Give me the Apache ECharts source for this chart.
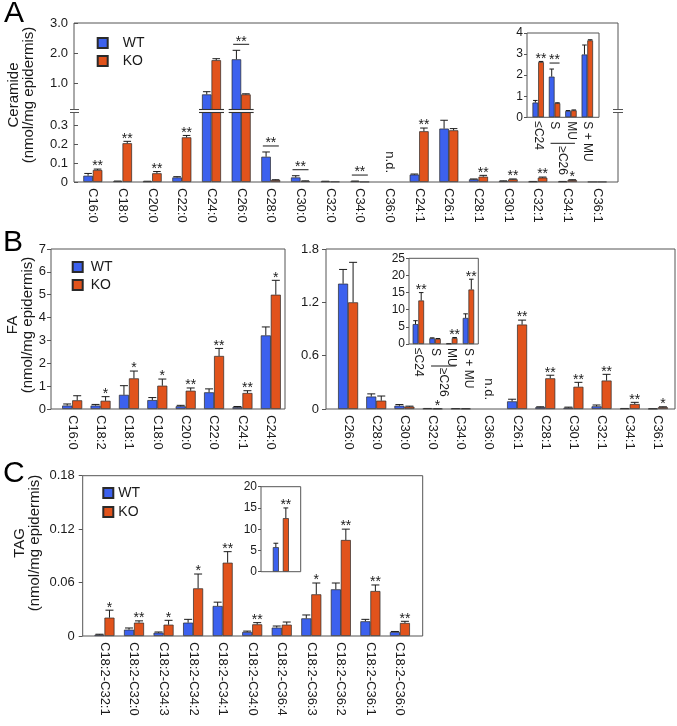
<!DOCTYPE html>
<html><head><meta charset="utf-8">
<script src="https://cdn.jsdelivr.net/npm/echarts@6/dist/echarts.min.js"></script>
<style>html,body{margin:0;padding:0;background:#fff}#c{width:677px;height:726px}</style>
</head><body><div id="c"></div>
<script>
// ---------------- DATA ----------------
// Panel A – Ceramide (nmol/mg epidermis)
const catsA = ['C16:0','C18:0','C20:0','C22:0','C24:0','C26:0','C28:0','C30:0','C32:0','C34:0','C36:0','C24:1','C26:1','C28:1','C30:1','C32:1','C34:1','C36:1'];
const wtA   = [0.033,0.004,0.003,0.024,0.62,1.79,0.133,0.024,0.003,0.004,null,0.039,0.281,0.014,0.005,0.002,0.002,0.001];
const wtSdA = [0.012,0.001,0.001,0.004,0.09,0.30,0.025,0.009,0.001,0.001,null,0.003,0.044,0.002,0.001,0.001,0.001,0];
const koA   = [0.063,0.204,0.046,0.235,1.76,0.62,0.010,0.005,0.002,0.001,null,0.267,0.272,0.028,0.014,0.023,0.010,0.001];
const koSdA = [0.005,0.010,0.009,0.010,0.05,0.02,0.002,0.001,0,0,null,0.017,0.009,0.007,0.002,0.003,0.002,0];
const sigA  = ['**','**','**','**','','**','**','**','','**','','**','','**','**','**','*',''];
const sigLineA = [0,0,0,0,0,1,1,1,0,1,0,0,0,0,0,0,0,0];
const ndA   = ['','','','','','','','','','','n.d.','','','','','','',''];
const ticksAUp = [1,2,3];
const ticksALow = [0,0.1,0.2,0.3];

// Inset A
const catsIA = ['\u2264C24','S','MU','S + MU'];
const wtIA   = [0.70,1.93,0.30,2.98];
const wtSdIA = [0.10,0.36,0.02,0.45];
const koIA   = [2.62,0.67,0.33,3.65];
const koSdIA = [0.03,0.02,0.02,0.03];
const sigIA  = ['**','**','',''];
const sigLineIA = [0,1,0,0];
const ticksIA = [0,1,2,3,4];

// Panel B left – FA
const catsBL = ['C16:0','C18:2','C18:1','C18:0','C20:0','C22:0','C24:1','C24:0'];
const wtBL   = [0.15,0.15,0.62,0.39,0.12,0.73,0.08,3.22];
const wtSdBL = [0.07,0.05,0.40,0.11,0.04,0.15,0.03,0.37];
const koBL   = [0.38,0.36,1.34,1.02,0.80,2.32,0.70,5.00];
const koSdBL = [0.20,0.18,0.32,0.29,0.12,0.33,0.10,0.63];
const sigBL  = ['','*','*','*','**','**','**','*'];
const ticksBL = [0,1,2,3,4,5,6,7];

// Panel B right
const catsBR = ['C26:0','C28:0','C30:0','C32:0','C34:0','C36:0','C26:1','C28:1','C30:1','C32:1','C34:1','C36:1'];
const wtBR   = [1.41,0.14,0.037,0.005,0.004,null,0.086,0.020,0.015,0.030,0.005,0.003];
const wtSdBR = [0.16,0.03,0.013,0.001,0.001,null,0.024,0.005,0.006,0.015,0.001,0.001];
const koBR   = [1.20,0.094,0.026,0.003,0.003,null,0.95,0.345,0.25,0.32,0.056,0.020];
const koSdBR = [0.45,0.052,0.006,0.001,0.001,null,0.05,0.035,0.05,0.07,0.019,0.005];
const sigBR  = ['','','','*','','','**','**','**','**','**','*'];
const ndBR   = ['','','','','','n.d.','','','','','',''];
const ticksBR = [0,0.6,1.2,1.8];

// Inset B
const catsIB = ['\u2264C24','S','MU','S + MU'];
const wtIB   = [5.8,1.67,0.10,7.6];
const wtSdIB = [1.0,0.13,0.05,1.2];
const koIB   = [12.7,1.5,1.7,15.9];
const koSdIB = [2.3,0.1,0.2,3.0];
const sigIB  = ['**','','**','**'];
const ticksIB = [0,5,10,15,20,25];

// Panel C – TAG
const catsC = ['C18:2-C32:1','C18:2-C32:0','C18:2-C34:3','C18:2-C34:2','C18:2-C34:1','C18:2-C34:0','C18:2-C36:4','C18:2-C36:3','C18:2-C36:2','C18:2-C36:1','C18:2-C36:0'];
const wtC   = [0.0015,0.0071,0.0037,0.0150,0.0337,0.0045,0.0094,0.0198,0.0524,0.0165,0.0045];
const wtSdC = [0.0005,0.0019,0.0008,0.0037,0.0043,0.0010,0.0018,0.0038,0.0071,0.0022,0.0006];
const koC   = [0.0206,0.0150,0.0127,0.0535,0.0823,0.0131,0.0127,0.0468,0.1078,0.0505,0.0146];
const koSdC = [0.0084,0.0020,0.0049,0.0161,0.0124,0.0019,0.0030,0.0127,0.0122,0.0068,0.0019];
const sigC  = ['*','**','*','*','**','**','','*','**','**','**'];
const ticksC = [0,0.06,0.12,0.18];

// Inset C
const catsIC = ['total'];
const wtIC   = [5.77];
const wtSdIC = [0.93];
const koIC   = [12.6];
const koSdIC = [2.4];
const sigIC  = ['**'];
const ticksIC = [0,5,10,15,20];

// ---------------- STYLE / LAYOUT ----------------
const FONT = '"Liberation Sans", Arial, Helvetica, sans-serif';
const WT_COLOR = '#3c61ee', KO_COLOR = '#e1531c', EDGE = '#2a2a2a', FRAME = '#555', TXT = '#1a1a1a';
const A_LOW_MAX = 0.3658, A_UP_MIN = 0.1167;

const option = {animation:false, textStyle:{fontFamily:FONT}, grid:[], xAxis:[], yAxis:[], series:[], legend:[]};
const panels = [];

function addPanel(p) {
  const gi = option.grid.length;
  p.gi = gi;
  panels.push(p);
  const top = p.top != null ? p.top : p.frame.y;
  const height = p.height != null ? p.height : p.frame.h;
  option.grid.push({left: p.frame.x + p.padL, top, width: p.frame.w - p.padL - p.padR, height});
  option.xAxis.push({type:'category', gridIndex:gi, data:p.cats,
    axisLine:{show:false}, axisTick:{show:false},
    axisLabel:{show:!!p.xLabel, interval:0, rotate:-90, fontSize:p.xFont||13, color:TXT, margin:p.xMargin||6, fontFamily:FONT}});
  option.yAxis.push({type:'value', gridIndex:gi, min:p.yMin, max:p.yMax, offset:p.padL,
    splitLine:{show:false}, axisLine:{show:false},
    axisTick:{show:true, inside:!!p.tickInside, length:p.tickLen||4, customValues:p.ticks, lineStyle:{color:FRAME}},
    axisLabel:{customValues:p.ticks, formatter:p.fmt, fontSize:p.yFont||13, color:TXT, margin:p.yMargin||6, fontFamily:FONT}});
  const keep = p.keep || (() => true);
  const barKeep = p.barKeep || keep;
  const mk = (name, vals, color) => ({type:'bar', name, xAxisIndex:gi, yAxisIndex:gi, barWidth:p.bw, barGap:p.gap||'0%',
    data: vals.map(v => (v == null || !barKeep(v)) ? '-' : v),
    itemStyle:{color, borderColor:EDGE, borderWidth:0.7}, silent:true, clip:true});
  option.series.push(mk('WT', p.wt, WT_COLOR), mk('KO', p.ko, KO_COLOR));
  const off = (p.bw + (p.gapPx||0)) / 2, cap = p.bw * 0.8;
  const star = (s, x, y) => ({type:'text', x, y: y + 5.5, style:{text:s, align:'center', verticalAlign:'bottom', font:'14px ' + FONT, fill:TXT}});
  option.series.push({type:'custom', xAxisIndex:gi, yAxisIndex:gi, silent:true, z:3,
    data: p.cats.map((c, i) => [i, p.yMin]),
    renderItem(params, api) {
      const i = api.value(0);
      const base = api.coord([i, p.yMin]);
      const cx = base[0];
      const ch = [];
      const pairs = [[p.wt[i], p.wtSd[i], cx - off], [p.ko[i], p.koSd[i], cx + off]];
      const tops = [];
      for (const [v, sd, x] of pairs) {
        if (v == null || !keep(v)) { tops.push(null); continue; }
        const yv = api.coord([i, v])[1];
        const ye = api.coord([i, v + (sd||0)])[1];
        tops.push(ye);
        if (sd > 0) {
          ch.push({type:'line', shape:{x1:x, y1:yv, x2:x, y2:ye}, style:{stroke:TXT, lineWidth:1}});
          ch.push({type:'line', shape:{x1:x - cap/2, y1:ye, x2:x + cap/2, y2:ye}, style:{stroke:TXT, lineWidth:1}});
        }
      }
      const s = p.sig && p.sig[i];
      const big = Math.max(p.wt[i] == null ? -1 : p.wt[i], p.ko[i] == null ? -1 : p.ko[i]);
      if (s && keep(big)) {
        const valid = tops.filter(t => t != null);
        if (p.sigLine && p.sigLine[i]) {
          const ly = Math.min(...valid) - 6;
          ch.push({type:'line', shape:{x1:cx - p.lineHalf, y1:ly, x2:cx + p.lineHalf, y2:ly}, style:{stroke:TXT, lineWidth:1}});
          ch.push(star(s, cx, ly - 1));
        } else if (tops[1] != null) {
          ch.push(star(s, cx + off, tops[1] - 1));
        }
      }
      if (p.nd && p.nd[i]) {
        ch.push({type:'text', x:cx, y:base[1] - 9, rotation:-Math.PI/2,
          style:{text:p.nd[i], align:'right', verticalAlign:'middle', font:'13px ' + FONT, fill:TXT}});
      }
      return {type:'group', children:ch};
    }});
}

const f1 = v => v === 0 ? '0' : v.toFixed(1);
const f2 = v => v === 0 ? '0' : v.toFixed(2);
const fi = v => String(v);

const frameA = {x:74, y:23, w:544, h:159};
// Panel A upper (broken axis)
addPanel({frame:frameA, padL:4, padR:6, top:23, height:86.5, yMin:A_UP_MIN, yMax:3, ticks:ticksAUp, fmt:v => v.toFixed(1),
  cats:catsA, wt:wtA, wtSd:wtSdA, ko:koA, koSd:koSdA, sig:sigA, sigLine:sigLineA, lineHalf:8,
  keep:v => v > A_LOW_MAX, bw:9.5, tickInside:true, yMargin:6, xLabel:false});
// Panel A lower
addPanel({frame:frameA, padL:4, padR:6, top:112.5, height:69.5, yMin:0, yMax:A_LOW_MAX, ticks:ticksALow, fmt:f1,
  cats:catsA, wt:wtA, wtSd:wtSdA, ko:koA, koSd:koSdA, sig:sigA, sigLine:sigLineA, nd:ndA, lineHalf:8,
  keep:v => v <= A_LOW_MAX, barKeep:() => true, bw:9.5, tickInside:true, yMargin:6, xLabel:true, xMargin:6});
// Inset A
addPanel({frame:{x:527, y:33, w:72, h:84.3}, padL:3, padR:3.5, yMin:0, yMax:4, ticks:ticksIA, fmt:fi,
  cats:catsIA, wt:wtIA, wtSd:wtSdIA, ko:koIA, koSd:koSdIA, sig:sigIA, sigLine:sigLineIA, lineHalf:5,
  bw:5.7, yFont:12, xFont:12, yMargin:4, xMargin:4, tickLen:3, xLabel:true,
  group:{label:'\u2265C26', from:1, to:2, lineDy:26, textDy:29}});
// Panel B left
addPanel({frame:{x:51, y:249, w:234, h:160}, padL:7, padR:0, yMin:0, yMax:7, ticks:ticksBL, fmt:fi,
  cats:catsBL, wt:wtBL, wtSd:wtSdBL, ko:koBL, koSd:koSdBL, sig:sigBL, bw:10, yMargin:5, xLabel:true, xMargin:6});
// Panel B right
addPanel({frame:{x:326, y:249, w:349, h:160}, padL:8, padR:3, yMin:0, yMax:1.8, ticks:ticksBR, fmt:f1,
  cats:catsBR, wt:wtBR, wtSd:wtSdBR, ko:koBR, koSd:koSdBR, sig:sigBR, nd:ndBR, bw:10, yMargin:7, xLabel:true, xMargin:6});
// Inset B
addPanel({frame:{x:409, y:258.3, w:69.3, h:85.7}, padL:1, padR:1.5, yMin:0, yMax:25, ticks:ticksIB, fmt:fi,
  cats:catsIB, wt:wtIB, wtSd:wtSdIB, ko:koIB, koSd:koSdIB, sig:sigIB,
  bw:5.7, yFont:12, xFont:12, yMargin:4, xMargin:4, tickLen:3, xLabel:true,
  group:{label:'\u2265C26', from:1, to:2, lineDy:22, textDy:24}});
// Panel C
addPanel({frame:{x:82.7, y:475.7, w:340, h:160.3}, padL:7, padR:8, yMin:0, yMax:0.18, ticks:ticksC, fmt:f2,
  cats:catsC, wt:wtC, wtSd:wtSdC, ko:koC, koSd:koSdC, sig:sigC, bw:10, yMargin:8, xLabel:true, xMargin:6});
// Inset C
addPanel({frame:{x:261, y:486.7, w:39.7, h:85}, padL:0, padR:0, yMin:0, yMax:20, ticks:ticksIC, fmt:fi,
  cats:catsIC, wt:wtIC, wtSd:wtSdIC, ko:koIC, koSd:koSdIC, sig:sigIC,
  bw:6, gap:'66.7%', gapPx:4, yFont:12, yMargin:4, tickLen:3, xLabel:false});

// Legends
const legendBase = {data:['WT','KO'], orient:'vertical', itemWidth:10, itemHeight:10, itemGap:4, padding:0,
  selectedMode:false, icon:'rect'};
option.legend.push(Object.assign({}, legendBase, {left:96.7, top:36, textStyle:{fontSize:14, color:TXT, fontFamily:FONT, padding:[0,0,0,10]}}));
option.legend.push(Object.assign({}, legendBase, {left:71.7, top:260, textStyle:{fontSize:14, color:TXT, fontFamily:FONT, padding:[0,0,0,3]}}));
option.legend.push(Object.assign({}, legendBase, {left:102.3, top:486, itemGap:5, textStyle:{fontSize:14, color:TXT, fontFamily:FONT}}));

const chart = echarts.init(document.getElementById('c'), null, {renderer:'canvas'});
chart.setOption(option);

// ---------------- DECORATION (frames, breaks, labels) ----------------
const g = [];
const line = (x1, y1, x2, y2, w, c) => ({type:'line', silent:true, z:10, shape:{x1, y1, x2, y2}, style:{stroke:c || FRAME, lineWidth:w || 1}});
// Panel A frame with axis break
{
  const f = frameA, yb1 = 109.5, yb2 = 112.5, r = f.x + f.w, b = f.y + f.h;
  g.push(line(f.x, f.y, r, f.y), line(f.x, b, r, b));
  g.push(line(f.x, f.y, f.x, yb1), line(f.x, yb2, f.x, b), line(r, f.y, r, yb1), line(r, yb2, r, b));
  g.push(line(f.x - 4, yb1, f.x + 5, yb1), line(f.x - 4, yb2, f.x + 5, yb2));
  g.push(line(r - 5, yb1, r + 5, yb1), line(r - 5, yb2, r + 5, yb2));
  // break marks across the bars that cross the break
  catsA.forEach((c, i) => {
    const big = Math.max(wtA[i] || 0, koA[i] || 0);
    if (big > A_LOW_MAX) {
      const x = chart.convertToPixel({gridIndex:1}, [i, 0])[0];
      g.push(line(x - 12.5, yb1, x + 12.5, yb1, 1.1, '#333'), line(x - 12.5, yb2, x + 12.5, yb2, 1.1, '#333'));
    }
  });
}
// other frames
panels.forEach(p => {
  if (p.frame === frameA) return;
  g.push({type:'rect', silent:true, z:10, shape:{x:p.frame.x, y:p.frame.y, width:p.frame.w, height:p.frame.h},
    style:{fill:'none', stroke:FRAME, lineWidth:1}});
  if (p.group) {
    const x1 = chart.convertToPixel({gridIndex:p.gi}, [p.group.from, 0])[0];
    const xa = chart.convertToPixel({gridIndex:p.gi}, [p.group.to, 0])[0];
    const yb = p.frame.y + p.frame.h;
    g.push({type:'line', silent:true, shape:{x1:x1 - 4, y1:yb + p.group.lineDy, x2:xa + 4, y2:yb + p.group.lineDy}, style:{stroke:TXT, lineWidth:1}});
    g.push({type:'text', silent:true, x:(x1 + xa) / 2, y:yb + p.group.textDy, rotation:-Math.PI/2,
      style:{text:p.group.label, align:'left', verticalAlign:'middle', font:'12px ' + FONT, fill:TXT}});
  }
});
// panel letters
[['A', 4, 14], ['B', 3, 243], ['C', 3, 474]].forEach(([t, x, y]) =>
  g.push({type:'text', silent:true, x, y, style:{text:t, align:'left', verticalAlign:'middle', font:'30px ' + FONT, fill:'#000'}}));
// y-axis titles
[['Ceramide\n(nmol/mg epidermis)', 21, 95], ['FA\n(nmol/mg epidermis)', 20, 325], ['TAG\n(nmol/mg epidermis)', 27, 543]].forEach(([t, x, y]) =>
  g.push({type:'text', silent:true, x, y, rotation:Math.PI/2,
    style:{text:t, align:'center', verticalAlign:'middle', font:'15px ' + FONT, lineHeight:15, fill:TXT}}));

chart.setOption({graphic:g});
</script></body></html>
